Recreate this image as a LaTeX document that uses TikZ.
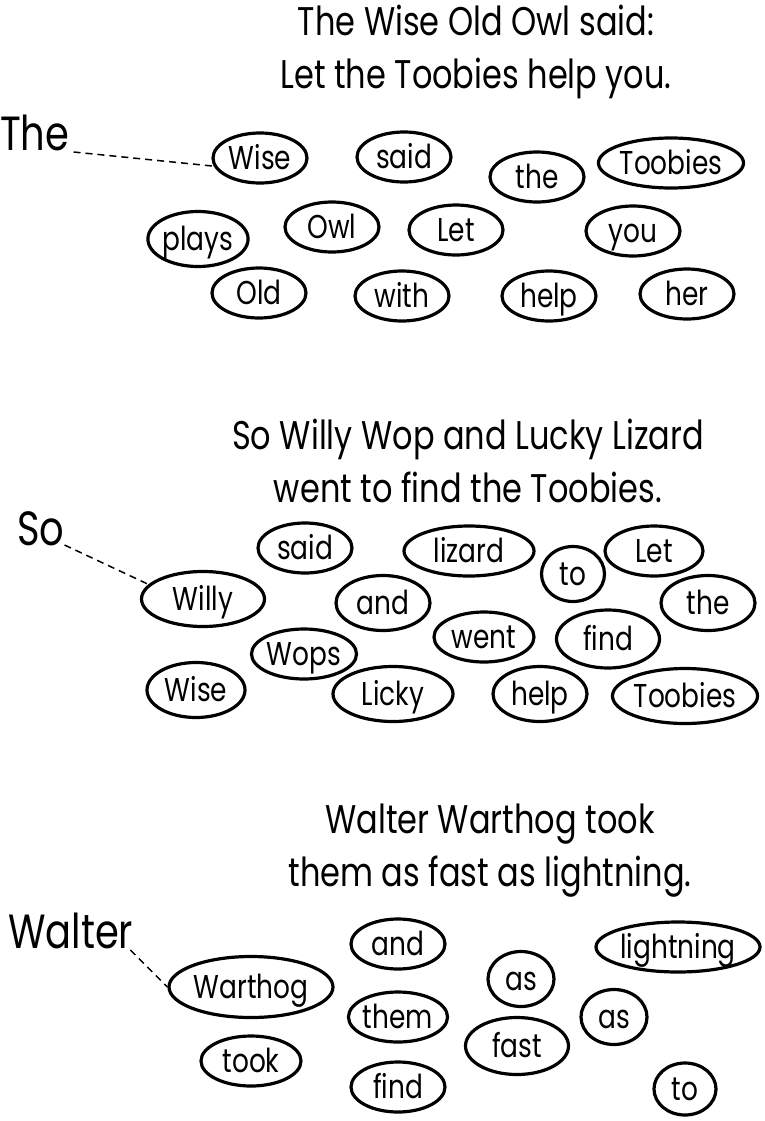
\documentclass[tikz,border=0pt]{standalone}
\usepackage{fontspec}
\setmainfont{Poppins}[FakeStretch=0.8]
\usepackage{tikz}
\usetikzlibrary{shapes.geometric}

\tikzset{
bubble/.style={draw, shape=ellipse, line width=3.2pt, inner sep=0pt,
minimum width=94pt, minimum height=50pt, text height=22pt, text depth=0pt,
font=\fontsize{33}{34}\selectfont},
leadWord/.style={anchor=base west, inner sep=0pt, font=\fontsize{48}{50}\selectfont},
sentence/.style={align=center, inner sep=0pt, font=\fontsize{40}{53}\selectfont},
leadLine/.style={line width=1.5pt, dash pattern=on 7pt off 5pt}
}

\begin{document}
\begin{tikzpicture}[x=1pt, y=-1pt]
\useasboundingbox (0,0) rectangle (765,1121);

% first puzzle
\node (sentenceA) [sentence] at (476,52) {The Wise Old Owl said:\\Let the Toobies help you.};
\node (theLead) [leadWord] at (0,150) {The};
\node (wiseA) [bubble] at (260,158) {Wise};
\node (saidA) [bubble] at (404,157) {said};
\node (theA) [bubble] at (537,177) {the};
\node (toobiesA) [bubble, minimum width=134pt] at (671,163) {Toobies};
\node (plays) [bubble, minimum height=55pt] at (198,239) {plays};
\node (owl) [bubble] at (332,227) {Owl};
\node (letA) [bubble] at (456,230) {Let};
\node (you) [bubble] at (633,231) {you};
\node (old) [bubble] at (259,293) {Old};
\node (with) [bubble] at (402,296) {with};
\node (helpA) [bubble] at (549,296) {help};
\node (her) [bubble] at (687,294) {her};
\draw[leadLine] (theLead.base east) ++(4,2) -- (wiseA.190);

% second puzzle
\node (sentenceB) [sentence] at (468,461) {So Willy Wop and Lucky Lizard\\went to find the Toobies.};
\node (soLead) [leadWord] at (17,545) {So};
\node (saidB) [bubble] at (305,548) {said};
\node (lizard) [bubble, minimum width=130pt] at (469,551) {lizard};
\node (toB) [bubble, minimum width=63pt, minimum height=55pt] at (573,574) {to};
\node (letB) [bubble, minimum width=98pt] at (654,551) {Let};
\node (willy) [bubble, minimum width=123pt, minimum height=55pt] at (203,599) {Willy};
\node (and) [bubble, minimum height=55pt] at (383,603) {and};
\node (theB) [bubble, minimum height=55pt] at (708,603) {the};
\node (went) [bubble, minimum width=100pt] at (484,637) {went};
\node (findB) [bubble, minimum width=103pt, minimum height=58pt] at (608,639) {find};
\node (wops) [bubble, minimum width=98pt] at (304,654) {Wops};
\node (wiseB) [bubble, minimum width=98pt, minimum height=55pt] at (196,690) {Wise};
\node (licky) [bubble, minimum width=120pt, minimum height=55pt] at (393,694) {Licky};
\node (helpB) [bubble, minimum height=55pt] at (540,694) {help};
\node (toobiesB) [bubble, minimum width=140pt, minimum height=55pt] at (685,696) {Toobies};
\draw[leadLine] (soLead.base east) -- (willy.165);

% third puzzle
\node (sentenceC) [sentence] at (490,851) {Walter Warthog took\\them as fast as lightning.};
\node (walterLead) [leadWord] at (8,948) {Walter};
\node (andC) [bubble] at (398,944) {and};
\node (lightning) [bubble, minimum width=164pt] at (678,947) {lightning};
\node (asA) [bubble, minimum width=66pt, minimum height=55pt] at (521,979) {as};
\node (warthog) [bubble, minimum width=164pt, minimum height=61pt] at (251,987) {Warthog};
\node (them) [bubble] at (398,1017) {them};
\node (asB) [bubble, minimum width=66pt, minimum height=55pt] at (614,1017) {as};
\node (fast) [bubble, minimum width=103pt, minimum height=57pt] at (517,1046) {fast};
\node (took) [bubble, minimum width=100pt] at (251,1061) {took};
\node (findC) [bubble] at (398,1087) {find};
\node (toC) [bubble, minimum width=62pt, minimum height=52pt] at (685,1089) {to};
\draw[leadLine] (walterLead.base east) ++(-3,2) -- (warthog.west);
\end{tikzpicture}
\end{document}
